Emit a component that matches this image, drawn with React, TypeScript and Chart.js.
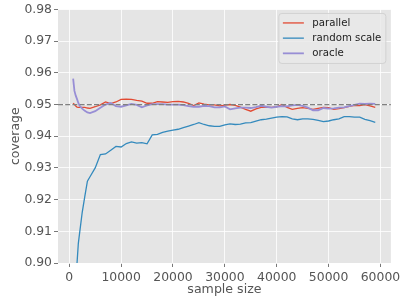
import React, { useEffect, useRef } from "react";
import { Chart, registerables } from "chart.js";

Chart.register(...registerables);

const sampleSizes = [
  750, 1000, 1250, 1500, 1750, 2000, 2500, 3000, 3500, 4000,
  5000, 6000, 7000, 8000, 9000, 10000, 11000, 12000, 13000, 14000,
  15000, 16000, 17000, 18000, 19000, 20000, 21000, 22000, 23000, 24000,
  25000, 26000, 27000, 28000, 29000, 30000, 31000, 32000, 33000, 34000,
  35000, 36000, 37000, 38000, 39000, 40000, 41000, 42000, 43000, 44000,
  45000, 46000, 47000, 48000, 49000, 50000, 51000, 52000, 53000, 54000,
  55000, 56000, 57000, 58000, 59000,
];

const parallel = [
  0.9504, 0.95, 0.9495, 0.9492, 0.9491, 0.9491, 0.9491, 0.9491, 0.9489, 0.9488,
  0.9493, 0.9499, 0.9508, 0.9503, 0.9508, 0.9516, 0.9517, 0.9516, 0.9513, 0.9511,
  0.9504, 0.9504, 0.9509, 0.9508, 0.9507, 0.9509, 0.951, 0.9508, 0.9504, 0.9497,
  0.9505, 0.9501, 0.9499, 0.9499, 0.9496, 0.9498, 0.95, 0.9497, 0.9492, 0.9485,
  0.9479, 0.9486, 0.9491, 0.9492, 0.9491, 0.9493, 0.95, 0.9491, 0.9485, 0.9488,
  0.949, 0.9488, 0.9485, 0.9488, 0.9491, 0.949, 0.9485, 0.9487, 0.949, 0.9494,
  0.9497, 0.9497, 0.95, 0.9496, 0.9491,
];

const randomScale = [
  0.88, 0.887, 0.894, 0.9, 0.9062, 0.9095, 0.916, 0.921, 0.9258, 0.9272,
  0.93, 0.9342, 0.9344, 0.9356, 0.9368, 0.9366, 0.9377, 0.9382, 0.9378, 0.938,
  0.9376, 0.9404, 0.9406, 0.9412, 0.9416, 0.9419, 0.9422, 0.9427, 0.9432, 0.9437,
  0.9443, 0.9437, 0.9433, 0.9431, 0.9431, 0.9436, 0.9439, 0.9437, 0.9438, 0.9442,
  0.9443, 0.9448, 0.9452, 0.9454, 0.9457, 0.946, 0.9462, 0.9461, 0.9455, 0.9452,
  0.9455, 0.9455, 0.9453, 0.945, 0.9446, 0.9448, 0.9452, 0.9455, 0.9462, 0.9462,
  0.946, 0.946, 0.9453, 0.9449, 0.9444,
];

const oracle = [
  0.9582, 0.9543, 0.9528, 0.9517, 0.9505, 0.9496, 0.9487, 0.948, 0.9475, 0.9473,
  0.9479, 0.949, 0.95, 0.9505, 0.9495, 0.9493, 0.9497, 0.9502, 0.9499, 0.9491,
  0.9497, 0.9501, 0.9501, 0.9501, 0.95, 0.95, 0.95, 0.9498, 0.9495, 0.9493,
  0.9493, 0.9496, 0.9495, 0.9491, 0.9491, 0.9494, 0.9485, 0.9488, 0.949, 0.949,
  0.9489, 0.9492, 0.9496, 0.9493, 0.949, 0.9493, 0.9495, 0.9494, 0.9497, 0.9499,
  0.9496, 0.949, 0.9482, 0.9482, 0.9489, 0.9487, 0.9488, 0.949, 0.9491, 0.9495,
  0.9499, 0.9503, 0.9502, 0.9503, 0.9502,
];

const seriesLabels = ["parallel", "random scale", "oracle"];
const seriesColors = ["#E24A33", "#348ABD", "#988ED5"];
const seriesWidths = [1.3, 1.3, 1.8];
const targetCoverage = 0.95;
const yTicks = [0.9, 0.91, 0.92, 0.93, 0.94, 0.95, 0.96, 0.97, 0.98];
const xTicks = [0, 10000, 20000, 30000, 40000, 50000, 60000];

const FONT = "'DejaVu Sans', sans-serif";

const bgPlugin = {
  id: "bgPlugin",
  beforeDraw(chart: any) {
    const { ctx, chartArea } = chart;
    ctx.save();
    ctx.fillStyle = "#E5E5E5";
    ctx.fillRect(chartArea.left, chartArea.top, chartArea.right - chartArea.left, chartArea.bottom - chartArea.top);
    ctx.restore();
  },
};

const refLinePlugin = {
  id: "refLinePlugin",
  afterDatasetsDraw(chart: any) {
    const { ctx, chartArea, scales } = chart;
    const y = scales.y.getPixelForValue(targetCoverage);
    ctx.save();
    ctx.strokeStyle = "#808080";
    ctx.lineWidth = 1.3;
    ctx.setLineDash([5, 2.2]);
    ctx.beginPath();
    ctx.moveTo(chartArea.left, y);
    ctx.lineTo(chartArea.right, y);
    ctx.stroke();
    ctx.restore();
  },
};

const legendPlugin = {
  id: "legendPlugin",
  afterDraw(chart: any) {
    const { ctx, chartArea } = chart;
    const w = 107;
    const h = 50;
    const x0 = chartArea.right - 5 - w;
    const y0 = chartArea.top + 4;
    ctx.save();
    ctx.fillStyle = "rgba(233,233,233,0.85)";
    ctx.strokeStyle = "#D2D2D2";
    ctx.lineWidth = 1;
    ctx.beginPath();
    const r = 3;
    ctx.moveTo(x0 + r, y0);
    ctx.lineTo(x0 + w - r, y0);
    ctx.arcTo(x0 + w, y0, x0 + w, y0 + r, r);
    ctx.lineTo(x0 + w, y0 + h - r);
    ctx.arcTo(x0 + w, y0 + h, x0 + w - r, y0 + h, r);
    ctx.lineTo(x0 + r, y0 + h);
    ctx.arcTo(x0, y0 + h, x0, y0 + h - r, r);
    ctx.lineTo(x0, y0 + r);
    ctx.arcTo(x0, y0, x0 + r, y0, r);
    ctx.closePath();
    ctx.fill();
    ctx.stroke();
    ctx.font = `10.2px ${FONT}`;
    ctx.textBaseline = "middle";
    ctx.textAlign = "left";
    seriesLabels.forEach((label, i) => {
      const yy = y0 + 9.5 + i * 15.2;
      ctx.strokeStyle = seriesColors[i];
      ctx.lineWidth = seriesWidths[i];
      ctx.setLineDash([]);
      ctx.beginPath();
      ctx.moveTo(x0 + 4, yy);
      ctx.lineTo(x0 + 25, yy);
      ctx.stroke();
      ctx.fillStyle = "#222";
      ctx.fillText(label, x0 + 33.5, yy);
    });
    ctx.restore();
  },
};

export default function App() {
  const ref = useRef<HTMLCanvasElement>(null);
  useEffect(() => {
    if (!ref.current) return;
    const series = [parallel, randomScale, oracle];
    const chart = new Chart(ref.current, {
      type: "line",
      data: {
        datasets: series.map((vals, i) => ({
          label: seriesLabels[i],
          data: vals.map((v, j) => ({ x: sampleSizes[j], y: v })),
          borderColor: seriesColors[i],
          backgroundColor: seriesColors[i],
          borderWidth: seriesWidths[i],
          pointRadius: 0,
          tension: 0,
          fill: false,
          order: 3 - i,
        })),
      },
      options: {
        responsive: false,
        animation: false,
        devicePixelRatio: 1,
        layout: { padding: { left: 0, right: 11, top: 8, bottom: 0 } },
        plugins: {
          legend: { display: false },
          tooltip: { enabled: false },
        },
        scales: {
          x: {
            type: "linear",
            min: -2170,
            max: 62010,
            afterFit: (s: any) => {
              s.height = 42;
            },
            afterBuildTicks: (s: any) => {
              s.ticks = xTicks.map((v) => ({ value: v }));
            },
            ticks: {
              color: "#555555",
              font: { family: FONT, size: 12.4 },
              padding: 3.5,
              maxRotation: 0,
              includeBounds: false,
              callback: (v: any) => String(v),
            },
            grid: {
              color: "#FFFFFF",
              lineWidth: 0.8,
              tickColor: "#555555",
              tickLength: 4,
              tickWidth: 0.8,
            },
            border: { display: false },
            title: {
              display: true,
              text: "sample size",
              color: "#555555",
              font: { family: FONT, size: 12.6 },
              padding: { top: 0, bottom: 7.5 },
            },
          },
          y: {
            type: "linear",
            min: 0.9,
            max: 0.98,
            afterFit: (s: any) => {
              s.width = 58;
            },
            afterBuildTicks: (s: any) => {
              s.ticks = yTicks.map((v) => ({ value: v }));
            },
            ticks: {
              color: "#555555",
              font: { family: FONT, size: 12.4 },
              padding: 2,
              callback: (v: any) => Number(v).toFixed(2),
            },
            grid: {
              color: "#FFFFFF",
              lineWidth: 0.8,
              tickColor: "#555555",
              tickLength: 4,
              tickWidth: 0.8,
            },
            border: { display: false },
            title: {
              display: true,
              text: "coverage",
              color: "#555555",
              font: { family: FONT, size: 12.4 },
              padding: { top: 8.5, bottom: 0 },
            },
          },
        },
      },
      plugins: [bgPlugin, refLinePlugin, legendPlugin],
    } as any);
    return () => chart.destroy();
  }, []);
  return (
    <div style={{ position: "fixed", left: 0, top: 0, width: 404, height: 305, background: "#fff" }}>
      <canvas ref={ref} width={404} height={305} style={{ width: 404, height: 305 }} />
    </div>
  );
}
